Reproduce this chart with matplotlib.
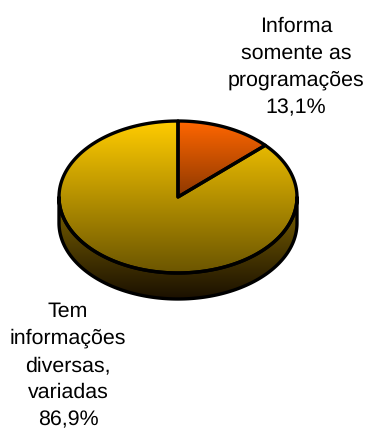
import numpy as np
import matplotlib
matplotlib.use("Agg")
import matplotlib.pyplot as plt
from matplotlib.colors import LinearSegmentedColormap
from matplotlib.patches import Polygon

# shares of each answer, in percent
labels = ["Informa\nsomente as\nprogramações", "Tem\ninformações\ndiversas,\nvariadas"]
shares = [13.1, 86.9]
share_text = ["13,1%", "86,9%"]

plt.rcParams["font.family"] = ["Liberation Sans", "DejaVu Sans"]
plt.rcParams["text.hinting"] = "none"

W, H = 368, 430
cx, cy = 178, 197
rx, ry = 119, 76
depth = 26

fig = plt.figure(figsize=(W / 100, H / 100), dpi=100)
ax = fig.add_axes([0, 0, 1, 1])
ax.set_xlim(0, W)
ax.set_ylim(H, 0)
ax.axis("off")


def rim(a0, a1, n=200):
    # points on the top ellipse, angles clockwise from twelve o'clock
    a = np.radians(np.linspace(a0, a1, n))
    return np.column_stack([cx + rx * np.sin(a), cy - ry * np.cos(a)])


def fill(pts, c_top, c_bot, y0, y1):
    # vertical gradient clipped to a polygon
    cmap = LinearSegmentedColormap.from_list("g", [c_top, c_bot])
    grad = np.linspace(0, 1, 256).reshape(-1, 1)
    im = ax.imshow(grad, cmap=cmap, extent=[cx - rx - 2, cx + rx + 2, y1, y0],
                   aspect="auto", zorder=2)
    outline = Polygon(pts, closed=True, fc="none", ec="black", lw=2.4,
                      joinstyle="round", zorder=3)
    ax.add_patch(outline)
    im.set_clip_path(outline)


# side wall below the front half of the rim
front = rim(90, 270)
wall = np.vstack([front, (front + [0, depth])[::-1]])
fill(wall, "#806600", "#1a1000", cy, cy + ry + depth)

# top slices, first one starts at twelve o'clock
start = 0
colors = [("#ff6600", "#1a0a00"), ("#ffcc00", "#6b5500")]
for share, (c0, c1) in zip(shares, colors):
    end = start + share * 3.6
    pts = np.vstack([[cx, cy], rim(start, end)])
    fill(pts, c0, c1, cy - ry, cy + ry)
    start = end

ax.set_xlim(0, W)
ax.set_ylim(H, 0)

ax.text(296, 67, labels[0] + "\n" + share_text[0], ha="center", va="center",
        fontsize=15.4, color="black", linespacing=1.5)
ax.text(68, 365.5, labels[1] + "\n" + share_text[1], ha="center", va="center",
        fontsize=15.4, color="black", linespacing=1.5)

fig.savefig("out.png", dpi=100, facecolor="white")
